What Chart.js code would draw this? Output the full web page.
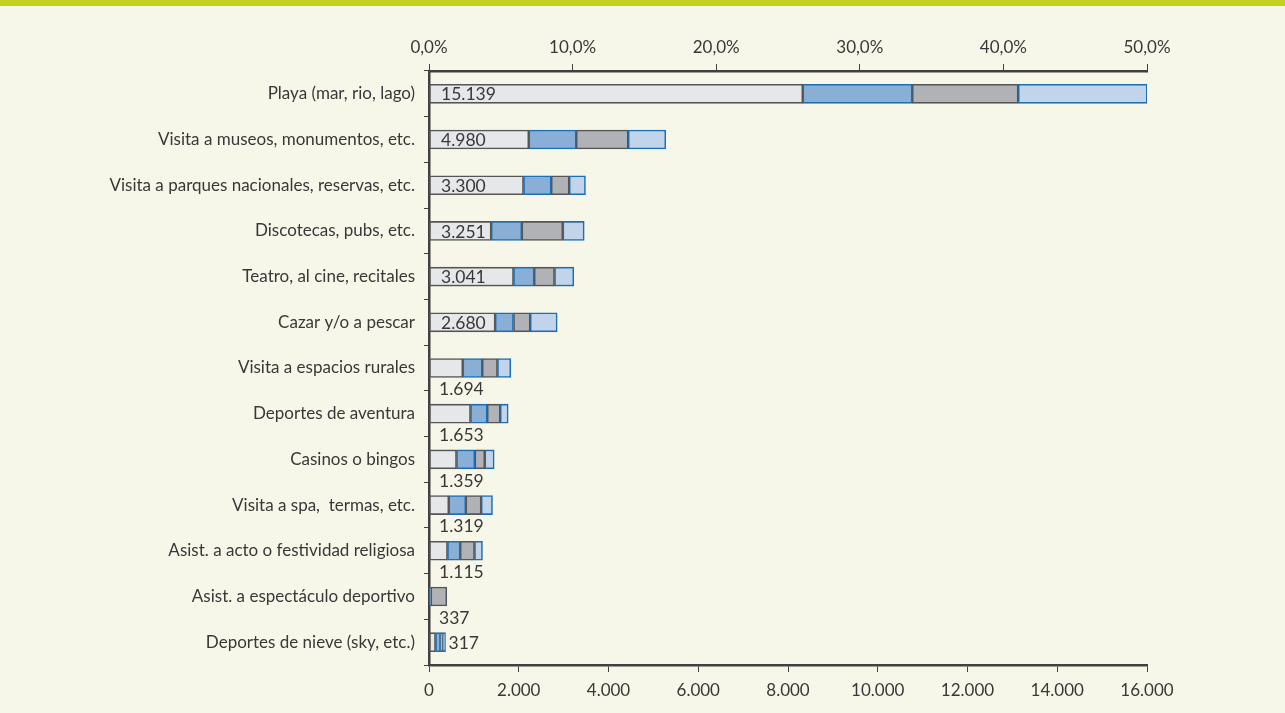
<!DOCTYPE html>
<html>
<head>
<meta charset="utf-8">
<script src="https://cdn.jsdelivr.net/npm/chart.js@4/dist/chart.umd.min.js"></script>
<style>
  html, body { margin: 0; padding: 0; background: #f7f7e9; width: 1285px; height: 713px; overflow: hidden; }
  #band { position: absolute; left: 0; top: 0; width: 1285px; height: 6px; background: #c3d121; }
  #c { position: absolute; left: 0; top: 0; }
</style>
</head>
<body>
<div id="band"></div>
<canvas id="c" width="1285" height="713"></canvas>
<script>
// ---- Data ----
const categories = [
  "Playa (mar, rio, lago)",
  "Visita a museos, monumentos, etc.",
  "Visita a parques nacionales, reservas, etc.",
  "Discotecas, pubs, etc.",
  "Teatro, al cine, recitales",
  "Cazar y/o a pescar",
  "Visita a espacios rurales",
  "Deportes de aventura",
  "Casinos o bingos",
  "Visita a spa,  termas, etc.",
  "Asist. a acto o festividad religiosa",
  "Asist. a espectáculo deportivo",
  "Deportes de nieve (sky, etc.)"
];
const seg1 = [8330, 2224, 2106, 1386, 1883, 1475, 753, 925, 613, 441, 412, 0, 145];
const seg2 = [2438, 1056, 617, 682, 461, 408, 433, 372, 408, 379, 283, 40, 111];
const seg3 = [2362, 1159, 401, 914, 453, 372, 340, 290, 222, 343, 319, 357, 45];
const seg4 = [2875, 838, 363, 477, 430, 602, 297, 178, 210, 252, 178, 0, 67];
const totals = [15139, 4980, 3300, 3251, 3041, 2680, 1694, 1653, 1359, 1319, 1115, 337, 317];
const countTicks = [0, 2000, 4000, 6000, 8000, 10000, 12000, 14000, 16000];
const percentTicks = [0, 10, 20, 30, 40, 50];

// ---- Style ----
const FONT = "Lato";
const TEXT = "#383838";
const AXIS = "#404040";
const labelPlacement = ["inside","inside","inside","inside","inside","inside",
  "below","below","below","below","below","below","right"];

function fmtThousands(v) {
  return String(Math.round(v)).replace(/\B(?=(\d{3})+(?!\d))/g, ".");
}

const valueLabels = {
  id: "valueLabels",
  afterDatasetsDraw(chart) {
    const ctx = chart.ctx;
    const xs = chart.scales.x;
    const x0 = xs.getPixelForValue(0);
    const meta0 = chart.getDatasetMeta(0);
    ctx.save();
    ctx.fillStyle = TEXT;
    ctx.font = "17.5px " + FONT;
    ctx.textAlign = "left";
    ctx.textBaseline = "middle";
    totals.forEach((t, i) => {
      const el = meta0.data[i];
      const y = el.y;
      const h = el.height;
      const txt = fmtThousands(t);
      const mode = labelPlacement[i];
      if (mode === "inside") {
        ctx.fillText(txt, x0 + 12, y + 1);
      } else if (mode === "below") {
        ctx.fillText(txt, x0 + 10, y + h / 2 + 12);
      } else {
        let end = 0;
        for (let d = 0; d < chart.data.datasets.length; d++) end += chart.data.datasets[d].data[i];
        ctx.fillText(txt, xs.getPixelForValue(end) + 3, y + 1);
      }
    });
    ctx.restore();
  }
};

const fills = ["#e6e7e9", "#8aafd6", "#b1b2b5", "#c1d4ea"];
const borders = ["#555555", "#1c6fb5", "#555555", "#1c6fb5"];
const segs = [seg1, seg2, seg3, seg4];

new Chart(document.getElementById("c"), {
  type: "bar",
  data: {
    labels: categories,
    datasets: segs.map((s, k) => ({
      label: "Segmento " + (k + 1),
      data: s,
      backgroundColor: fills[k],
      borderColor: borders[k],
      borderWidth: 1.6,
      borderSkipped: false,
      barThickness: 19,
      xAxisID: "x",
      yAxisID: "y"
    }))
  },
  options: {
    indexAxis: "y",
    responsive: false,
    devicePixelRatio: 1,
    animation: false,
    layout: { padding: { left: 0, right: 138, top: 0, bottom: 0 } },
    plugins: { legend: { display: false }, tooltip: { enabled: false } },
    scales: {
      x: {
        type: "linear",
        position: "bottom",
        stacked: true,
        min: 0, max: 16000,
        afterBuildTicks(scale) { scale.ticks = countTicks.map(v => ({ value: v })); },
        afterFit(scale) { scale.height = 48; },
        ticks: {
          color: TEXT,
          font: { family: FONT, size: 17 },
          padding: 8,
          maxRotation: 0,
          callback: (v) => fmtThousands(v)
        },
        grid: { drawOnChartArea: false, tickLength: 7, color: AXIS, lineWidth: 1 },
        border: { display: true, color: AXIS, width: 2.5 }
      },
      x2: {
        type: "linear",
        position: "top",
        display: true,
        min: 0, max: 50,
        afterBuildTicks(scale) { scale.ticks = percentTicks.map(v => ({ value: v })); },
        afterFit(scale) { scale.height = 71; },
        ticks: {
          color: TEXT,
          font: { family: FONT, size: 17 },
          padding: 6,
          maxRotation: 0,
          callback: (v) => v.toFixed(1).replace(".", ",") + "%"
        },
        grid: { drawOnChartArea: false, tickLength: 7, color: AXIS, lineWidth: 1 },
        border: { display: true, color: AXIS, width: 2.5 }
      },
      y: {
        type: "category",
        stacked: true,
        afterFit(scale) { scale.width = 429; },
        ticks: {
          color: TEXT,
          font: { family: FONT, size: 17 },
          padding: 9,
          autoSkip: false
        },
        grid: { offset: true, drawOnChartArea: false, tickLength: 5, color: AXIS, lineWidth: 1 },
        border: { display: true, color: AXIS, width: 2.5 }
      }
    }
  },
  plugins: [valueLabels]
});
</script>
</body>
</html>
